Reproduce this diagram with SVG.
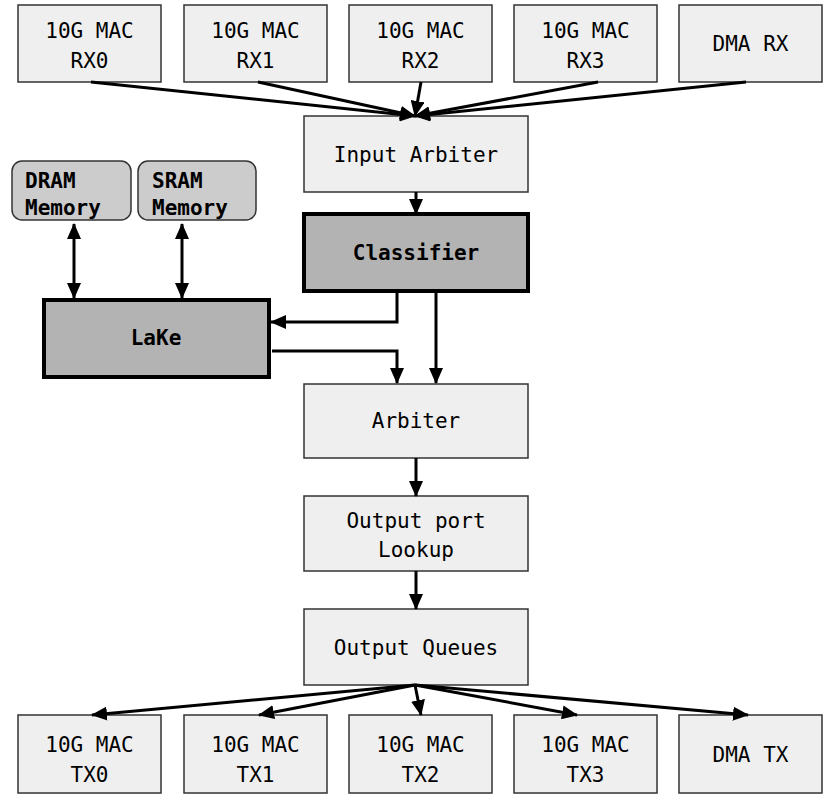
<svg xmlns="http://www.w3.org/2000/svg" width="830" height="800" viewBox="0 0 830 800">
<defs>
<marker id="ah" markerUnits="userSpaceOnUse" markerWidth="16" markerHeight="14" viewBox="0 0 16 14" refX="15" refY="7" orient="auto-start-reverse">
<path d="M0,0 L16,7 L0,14 Z" fill="#000"/>
</marker>
</defs>
<style>
.box{fill:#efefef;stroke:#333;stroke-width:1.5}
.dark{fill:#b3b3b3;stroke:#000;stroke-width:4}
.mem{fill:#cccccc;stroke:#333;stroke-width:1.5}
text{font-family:"DejaVu Sans Mono","Liberation Mono",monospace;font-size:21px;fill:#000;text-anchor:middle}
.b{font-weight:bold}
.l{text-anchor:start}
.c{fill:none;stroke:#000;stroke-width:3;marker-end:url(#ah)}
.d{marker-start:url(#ah)}
</style>
<g id="rx0"><rect class="box" x="18" y="5" width="143" height="77"/><text x="89.5" y="38">10G MAC</text><text x="89.5" y="68">RX0</text></g>
<g id="rx1"><rect class="box" x="184" y="5" width="143" height="77"/><text x="255.5" y="38">10G MAC</text><text x="255.5" y="68">RX1</text></g>
<g id="rx2"><rect class="box" x="349" y="5" width="143" height="77"/><text x="420.5" y="38">10G MAC</text><text x="420.5" y="68">RX2</text></g>
<g id="rx3"><rect class="box" x="514" y="5" width="143" height="77"/><text x="585.5" y="38">10G MAC</text><text x="585.5" y="68">RX3</text></g>
<g id="dmarx"><rect class="box" x="679" y="5" width="143" height="77"/><text x="750.5" y="51">DMA RX</text></g>
<g id="inarb"><rect class="box" x="304" y="116" width="224" height="76"/><text x="416" y="162">Input Arbiter</text></g>
<g id="dram"><rect class="mem" x="12" y="161" width="119" height="59" rx="10"/><text class="b l" x="25" y="188">DRAM</text><text class="b l" x="25" y="215">Memory</text></g>
<g id="sram"><rect class="mem" x="138" y="161" width="118" height="59" rx="10"/><text class="b l" x="152" y="188">SRAM</text><text class="b l" x="152" y="215">Memory</text></g>
<g id="classifier"><rect class="dark" x="304" y="214" width="224" height="77"/><text class="b" x="416" y="260">Classifier</text></g>
<g id="lake"><rect class="dark" x="44" y="300" width="225" height="77"/><text class="b" x="156" y="345">LaKe</text></g>
<g id="arbiter"><rect class="box" x="304" y="384" width="224" height="74"/><text x="416" y="428">Arbiter</text></g>
<g id="opl"><rect class="box" x="304" y="496" width="224" height="75"/><text x="416" y="528">Output port</text><text x="416" y="557">Lookup</text></g>
<g id="oq"><rect class="box" x="304" y="609" width="224" height="76"/><text x="416" y="655">Output Queues</text></g>
<g id="tx0"><rect class="box" x="18" y="715" width="143" height="78"/><text x="89.5" y="752">10G MAC</text><text x="89.5" y="782">TX0</text></g>
<g id="tx1"><rect class="box" x="184" y="715" width="143" height="78"/><text x="255.5" y="752">10G MAC</text><text x="255.5" y="782">TX1</text></g>
<g id="tx2"><rect class="box" x="349" y="715" width="143" height="78"/><text x="420.5" y="752">10G MAC</text><text x="420.5" y="782">TX2</text></g>
<g id="tx3"><rect class="box" x="514" y="715" width="143" height="78"/><text x="585.5" y="752">10G MAC</text><text x="585.5" y="782">TX3</text></g>
<g id="dmatx"><rect class="box" x="679" y="715" width="143" height="78"/><text x="750.5" y="762">DMA TX</text></g>
<g id="connectors">
<line class="c" x1="91" y1="82" x2="415" y2="116"/>
<line class="c" x1="258" y1="82" x2="415" y2="116"/>
<line class="c" x1="421" y1="82" x2="415" y2="116"/>
<line class="c" x1="598" y1="82" x2="415" y2="116"/>
<line class="c" x1="746" y1="82" x2="415" y2="116"/>
<line class="c" x1="416" y1="192" x2="416" y2="214"/>
<line class="c d" x1="74" y1="224" x2="74" y2="298"/>
<line class="c d" x1="182" y1="224" x2="182" y2="298"/>
<polyline class="c" points="397,291 397,322 271,322"/>
<polyline class="c" points="272,351 397,351 397,383"/>
<line class="c" x1="436" y1="291" x2="436" y2="383"/>
<line class="c" x1="416" y1="458" x2="416" y2="496"/>
<line class="c" x1="416" y1="571" x2="416" y2="609"/>
<line class="c" x1="415" y1="685" x2="92" y2="715"/>
<line class="c" x1="415" y1="685" x2="259" y2="715"/>
<line class="c" x1="415" y1="685" x2="421" y2="715"/>
<line class="c" x1="415" y1="685" x2="577" y2="715"/>
<line class="c" x1="415" y1="685" x2="748" y2="715"/>
</g>
</svg>
